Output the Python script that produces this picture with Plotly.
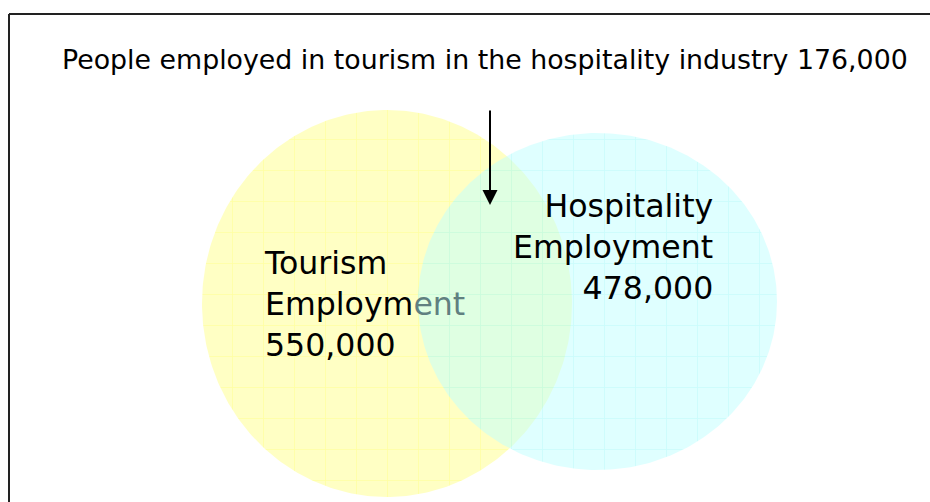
import numpy as np
import plotly.graph_objects as go

# ---- data ----
set_names = ["Tourism Employment", "Hospitality Employment"]
set_values = ["550,000", "478,000"]
overlap_label = "People employed in tourism in the hospitality industry"
overlap_value = "176,000"

# ---- geometry (pixel space, y grows downward) ----
W, H = 930, 502
circles = [
    dict(cx=387, cy=303.5, rx=185, ry=193.5, bg="rgb(255,255,196)", fg="rgba(255,255,120,0.9)"),
    dict(cx=597.5, cy=301.5, rx=179.5, ry=168.5, bg="rgba(192,255,255,0.5)", fg="rgba(160,245,245,0.7)"),
]

fig = go.Figure()
t = np.linspace(0, 2 * np.pi, 361)
for c, name in zip(circles, set_names):
    fig.add_trace(go.Scatter(
        x=c["cx"] + c["rx"] * np.cos(t),
        y=c["cy"] + c["ry"] * np.sin(t),
        mode="lines", line=dict(width=0, color="rgba(0,0,0,0)"),
        fill="toself", fillcolor=c["bg"],
        fillpattern=dict(shape="+", size=31, solidity=0.05, fgcolor=c["fg"], bgcolor=c["bg"]),
        hoverinfo="skip", showlegend=False, name=name,
    ))

font = "DejaVu Sans, Verdana, sans-serif"
annotations = [
    dict(x=485, y=59, text=f"{overlap_label} {overlap_value}", showarrow=False,
         xanchor="center", yanchor="middle", font=dict(family=font, size=26.8, color="black")),
    dict(x=262, y=304, text="Tourism<br>Employm<span style='color:rgb(96,128,128)'>ent</span><br>" + set_values[0],
         showarrow=False, xanchor="left", yanchor="middle", align="left",
         font=dict(family=font, size=31.6, color="black")),
    dict(x=715, y=247, text="Hospitality<br>Employment<br>" + set_values[1],
         showarrow=False, xanchor="right", yanchor="middle", align="right",
         font=dict(family=font, size=31.6, color="black")),
    dict(x=490, y=205, ax=490, ay=109, xref="x", yref="y", axref="x", ayref="y", text="",
         showarrow=True, arrowhead=2, arrowsize=1.5, arrowwidth=2, arrowcolor="black"),
]

# frame: top and left edges (right/bottom lie beyond the picture)
shapes = [
    dict(type="line", xref="x", yref="y", x0=9, y0=14, x1=W + 10, y1=14, line=dict(color="#222", width=2)),
    dict(type="line", xref="x", yref="y", x0=9, y0=14, x1=9, y1=H + 10, line=dict(color="#222", width=2)),
]

fig.update_layout(
    width=W, height=H, margin=dict(l=0, r=0, t=0, b=0),
    paper_bgcolor="white", plot_bgcolor="white",
    xaxis=dict(range=[0, W], visible=False, fixedrange=True),
    yaxis=dict(range=[H, 0], visible=False, fixedrange=True),
    annotations=annotations, shapes=shapes, showlegend=False,
)
fig.write_html(
    "out.html",
    config={"displayModeBar": False},
    post_script="document.body.style.margin='0';document.body.style.overflow='hidden';",
)
